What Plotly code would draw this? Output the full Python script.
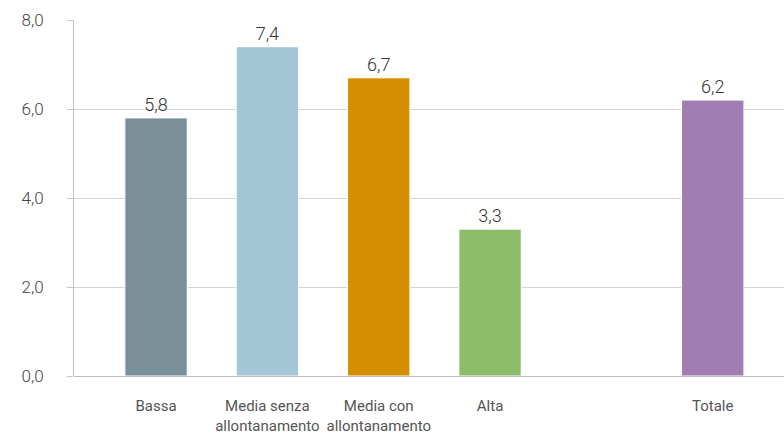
import plotly.graph_objects as go

# Categories (a blank slot separates the groups from the total)
categories = ["Bassa", "Media senza<br>allontanamento", "Media con<br>allontanamento", "Alta", " ", "Totale"]
values = [5.8, 7.4, 6.7, 3.3, None, 6.2]
colors = ["#7a9099", "#a5c6d7", "#d48e00", "#8dbd68", "#ffffff", "#a17db2"]
y_ticks = [0, 2, 4, 6, 8]

fig = go.Figure(
    go.Bar(
        x=categories,
        y=values,
        marker=dict(color=colors, line=dict(color="white", width=1)),
        width=0.56,
        texttemplate="%{y:.1f}",
        textposition="outside",
        textfont=dict(family="Roboto", size=18, color="#333333", weight=300),
        cliponaxis=False,
        hoverinfo="skip",
    )
)

fig.update_layout(
    width=784,
    height=434,
    margin=dict(l=74, r=0, t=20, b=58, autoexpand=False),
    paper_bgcolor="white",
    plot_bgcolor="white",
    separators=",.",
    showlegend=False,
    font=dict(family="Roboto", color="#555555"),
)

fig.update_xaxes(
    type="category",
    categoryorder="array",
    categoryarray=categories,
    range=[-0.737, 5.64],
    showgrid=False,
    showline=False,
    zeroline=False,
    ticks="",
    tickangle=0,
    automargin=False,
    tickfont=dict(family="Roboto", size=15, color="#555555"),
    ticklabelstandoff=19,
)

fig.update_yaxes(
    range=[0, 8],
    tickvals=y_ticks,
    tickformat=".1f",
    showgrid=True,
    gridcolor="#d4d4d4",
    gridwidth=1,
    showline=True,
    linecolor="#c4c4c4",
    linewidth=1,
    zeroline=True,
    zerolinecolor="#bdbdbd",
    zerolinewidth=1,
    ticks="outside",
    ticklen=6,
    tickcolor="#c4c4c4",
    automargin=False,
    tickfont=dict(family="Roboto", size=17, color="#444444", weight=300),
    ticklabelstandoff=20,
)

fig.write_html("out.html")
